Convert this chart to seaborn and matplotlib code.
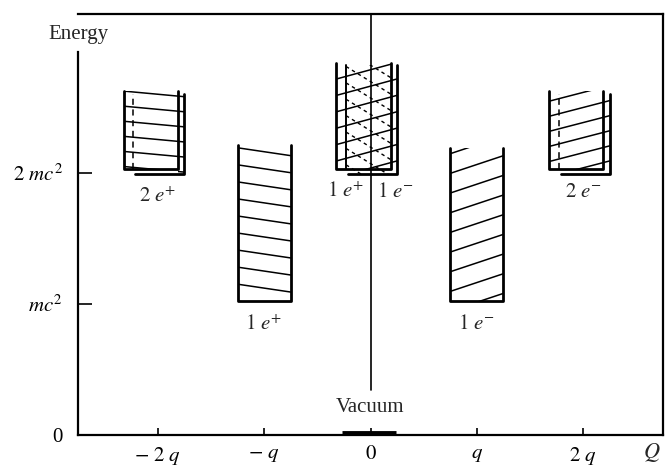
import numpy as np
import pandas as pd
import matplotlib
matplotlib.use("Agg")
import matplotlib.pyplot as plt
import seaborn as sns
from matplotlib.patches import Rectangle

# ---------------- data ----------------
charge = [-2, -1, 0, 1, 2]                 # net charge, units of q
threshold = [2.0, 1.0, 2.0, 1.0, 2.0]      # minimum energy, units of mc^2
box_top = [2.62, 2.21, 2.84, 2.19, 2.62]   # drawn top of continuum
n_particles = [2, 1, 2, 1, 2]
state_labels = [r"$2\ e^{+}$", r"$1\ e^{+}$", "", r"$1\ e^{-}$", r"$2\ e^{-}$"]
center_labels = [r"$1\ e^{+}$", r"$1\ e^{-}$"]
xtick_vals = [-2, -1, 0, 1, 2]
xtick_labels = [r"$-\ 2\ q$", r"$-\ q$", r"$0$", r"$q$", r"$2\ q$"]
ytick_vals = [0, 1, 2]
ytick_labels = ["0", r"$mc^2$", r"$2\ mc^2$"]

# ---------------- style ----------------
sns.set_theme(style="ticks")
plt.rcParams["font.family"] = ["Liberation Serif", "DejaVu Serif"]
plt.rcParams["mathtext.fontset"] = "stix"
FS = 15

# hatch style per box: (front slope, spacing, back slope, back linestyle)
hatch = [(-0.075, 0.115, None, "-"),
         (-0.12, 0.13, None, None),
         (0.22, 0.125, -0.5, (0, (2.5, 2.5))),
         (0.27, 0.15, None, None),
         (0.21, 0.115, None, "-")]

fig = plt.figure(figsize=(6.65, 4.67), dpi=100)
ax = fig.add_axes([0.1173, 0.0685, 0.8797, 0.9015])
ax.set_facecolor("white")
XL, YT = (-2.75, 2.75), 3.21
ax.set_xlim(*XL)
ax.set_ylim(0, YT)

# outlines of boxes (open-top "U" shapes)
rows = []
geom = []
for i, (c, th, top, n) in enumerate(zip(charge, threshold, box_top, n_particles)):
    if n == 1:
        boxes = [(c - 0.25, c + 0.25, th + 0.02, top, "front")]
    else:
        boxes = [(c - 0.32, c + 0.19, th + 0.03, top, "front"),
                 (c - 0.23, c + 0.25, th - 0.01, top - 0.02, "back")]
    geom.append(boxes)
    for j, (x0, x1, b, t, kind) in enumerate(boxes):
        if kind == "front":
            pts = [(x0, t), (x0, b), (x1, b), (x1, t)]
        else:
            pts = [(x0 + 0.02, b), (x1, b), (x1, t)]
        for k, (px, py) in enumerate(pts):
            rows.append({"x": px, "y": py, "unit": f"{i}-{j}", "order": k})
outline = pd.DataFrame(rows)
sns.lineplot(data=outline, x="x", y="y", units="unit", estimator=None,
             sort=False, color="black", lw=2.0, ax=ax, legend=False)


def hatch_lines(anchor_x, anchor_b, slope, sp, x_from, x_to, clip_rect, ls, lw, span):
    ys = np.arange(anchor_b - abs(slope) * span - sp,
                   clip_rect[3] + abs(slope) * span + sp, sp) + 0.06
    clip = Rectangle((clip_rect[0], clip_rect[1]), clip_rect[2] - clip_rect[0],
                     clip_rect[3] - clip_rect[1], transform=ax.transData)
    for y0 in ys:
        ya = y0 + slope * (x_from - anchor_x)
        yb = y0 + slope * (x_to - anchor_x)
        ln, = ax.plot([x_from, x_to], [ya, yb], color="black", lw=lw, ls=ls)
        ln.set_clip_path(clip)


# hatching
for i, boxes in enumerate(geom):
    fs, sp, bs, bls = hatch[i]
    x0, x1, b, t, _ = boxes[0]
    if len(boxes) == 1:
        hatch_lines(x0, b, fs, sp, x0, x1, (x0, b, x1, t), "-", 1.1, x1 - x0)
        continue
    bx0, bx1, bb, bt, _ = boxes[1]
    # front hatch, continued into visible strip of back box
    hatch_lines(x0, b, fs, sp, x0, x1, (x0, b, x1, t), "-", 1.1, bx1 - x0)
    hatch_lines(x0, b, fs, sp, x1, bx1, (x1, bb, bx1, bt), "-", 1.1, bx1 - x0)
    if bs is not None:
        hatch_lines(bx0, bb, bs, sp, bx0, bx1, (bx0, bb, x1, bt), bls, 1.0,
                    bx1 - bx0)
    if i != 2:
        ax.plot([bx0, bx0], [bb + 0.04, bt], color="black", lw=1.1,
                ls=(0, (4, 3)))
    else:
        ax.plot([bx0, bx0], [b, bt], color="black", lw=1.4)

# labels of states
lab_y = [1.81, 0.84, 1.85, 0.84, 1.85]
for c, lab, ly in zip(charge, state_labels, lab_y):
    if lab:
        ax.text(c, ly, lab, ha="center", va="center", fontsize=FS)
ax.text(-0.06, lab_y[2], center_labels[0], ha="right", va="center", fontsize=FS)
ax.text(0.06, lab_y[2], center_labels[1], ha="left", va="center", fontsize=FS)

# central line, vacuum
ax.plot([0, 0], [0.34, YT], color="black", lw=1.2)
ax.text(0, 0.21, "Vacuum", ha="center", va="center", fontsize=FS)
ax.plot([-0.27, 0.24], [0.012, 0.012], color="black", lw=3.5,
        solid_capstyle="butt")

# axes
for s in ax.spines.values():
    s.set_color("black")
    s.set_linewidth(1.6)
ax.spines["left"].set_bounds(0, 2.92)
ax.set_xticks(xtick_vals)
ax.set_xticklabels(xtick_labels)
ax.set_yticks(ytick_vals)
ax.set_yticklabels(ytick_labels)
ax.tick_params(axis="x", direction="in", length=5, width=1.2, pad=7,
               labelsize=FS, colors="black")
ax.tick_params(axis="y", direction="in", length=10, width=1.2, pad=11,
               labelsize=FS, colors="black")
ax.yaxis.get_major_ticks()[0].tick1line.set_visible(False)
ax.set_xlabel("")
ax.set_ylabel("")
ax.text(XL[0], 3.05, "Energy", ha="center", va="center", fontsize=FS)
ax.text(2.64, -0.13, r"$Q$", ha="center", va="center", fontsize=FS + 1,
        clip_on=False)

fig.savefig("out.png", dpi=100, facecolor="white")
